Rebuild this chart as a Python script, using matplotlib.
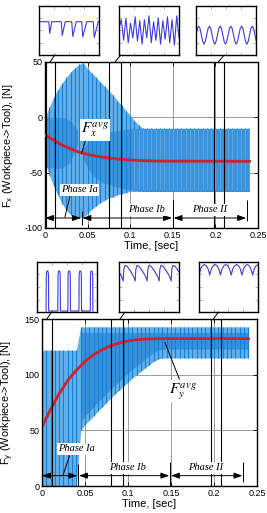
import numpy as np
import matplotlib
matplotlib.use("Agg")
import matplotlib.pyplot as plt
from matplotlib.patches import Rectangle, ConnectionPatch

plt.rcParams['font.family'] = ['Liberation Sans', 'DejaVu Sans']
plt.rcParams['mathtext.fontset'] = 'stix'
plt.rcParams['axes.unicode_minus'] = False

## envelope sample times [sec]
t_env = np.round(np.arange(0, 0.2401, 0.005), 3)

## Fx envelope
fx_upper = [0, 9, 18, 25, 31, 36, 41, 45, 48, 49, 44, 40, 36, 32, 28, 24,
            20, 15, 11, 6, 2, -3, -7, -10] + [-10] * 25
fx_lower = [-40, -52, -62, -70, -78, -84, -88, -90, -91, -90, -87, -83, -80,
            -77, -75, -73, -72, -70, -69, -68] + [-67] * 29
# darker inner bands (overlapping cycles)
fx_band1_t = [0, 0.01, 0.02, 0.03, 0.038]
fx_band1_hi = [0, 0, 0, -3, -12]
fx_band1_lo = [-45, -46, -46, -40, -25]
fx_band2_t = [0.045, 0.055, 0.065, 0.075, 0.085, 0.095, 0.105, 0.115, 0.24]
fx_band2_hi = [-28, -18, -14, -13, -12, -11, -10, -10, -10]
fx_band2_lo = [-38, -52, -58, -61, -63, -65, -66, -67, -67]

fx_avg_t = [0, 0.01, 0.02, 0.03, 0.04, 0.05, 0.06, 0.07, 0.08, 0.09, 0.1, 0.12, 0.14, 0.24]
fx_avg = [-16, -20.5, -25, -28.5, -31.5, -33.5, -35, -36.3, -37.3, -38, -38.6, -39.3, -39.6, -39.8]

## Fy envelope
fy_upper = [122] * 9 + [143] * 40
fy_lower = [0] * 9 + [50, 55, 59, 63, 67, 71, 75, 79, 83, 86, 90, 93, 97, 100,
                      103, 106, 109, 112, 114] + [115] * 21
fy_avg_t = [0, 0.01, 0.02, 0.03, 0.04, 0.05, 0.06, 0.07, 0.08, 0.09, 0.1, 0.11, 0.12, 0.14, 0.24]
fy_avg = [53, 69, 83, 95, 104, 112, 118, 122.5, 126, 128.5, 130.3, 131.4, 132, 132.4, 132.4]

xticks = [0, 0.05, 0.1, 0.15, 0.2, 0.25]
xtick_labels = ['0', '0.05', '0.1', '0.15', '0.2', '0.25']
fx_yticks = [-100, -50, 0, 50]
fy_yticks = [0, 50, 100, 150]

# zoom windows [sec]
fx_zoom = [(0.001, 0.012), (0.0755, 0.0888), (0.1988, 0.210)]
fy_zoom = [(0.0, 0.0113), (0.080, 0.094), (0.196, 0.208)]

## inset waveforms (normalised, 0..1)
# Fx, phase Ia: flat with short dips
ins_fx1_x = [0, 9.5, 10.5, 12.5, 22, 23, 26, 32.5, 33.5, 37, 42.5, 43.5, 47.5, 54, 55, 59, 60]
ins_fx1_y = [0.68, 0.68, 0.44, 0.68, 0.68, 0.40, 0.68, 0.68, 0.38, 0.68, 0.68, 0.37, 0.68, 0.68, 0.36, 0.68, 0.68]
# Fx, phase Ib: irregular zigzag
ins_fx2_y = [0.55, 0.72, 0.30, 0.75, 0.25, 0.65, 0.35, 0.78, 0.28, 0.70, 0.22, 0.72, 0.35,
             0.80, 0.25, 0.68, 0.30, 0.76, 0.22, 0.70, 0.32, 0.78, 0.25, 0.72, 0.20, 0.80, 0.35]
# Fx, phase II: sine-like, one cycle
ins_fx3_cycle = [0.41, 0.54, 0.59, 0.54, 0.41, 0.28, 0.22, 0.28]
ins_fx3_ncyc = 5.6
# Fy, phase Ia: pulses
ins_fy1_centers = [10.6, 22.3, 32.3, 43.3, 54.6]
ins_fy1_shape_dx = [-1.3, -1.1, -0.8, -0.3, 0.3, 0.8, 1.1, 1.3]
ins_fy1_shape_y = [0.02, 0.72, 0.80, 0.82, 0.82, 0.80, 0.72, 0.02]
# Fy, phase Ib: rise, round top, decline
ins_fy2_cycle_x = [0, 0.05, 0.15, 0.3, 0.6, 0.85, 1.0]
ins_fy2_cycle_y = [0.62, 0.85, 0.93, 0.92, 0.82, 0.72, 0.62]
ins_fy2_ncyc = 5
# Fy, phase II: arches
ins_fy3_cycle_x = [0, 0.15, 0.3, 0.5, 0.7, 0.85, 1.0]
ins_fy3_cycle_y = [0.74, 0.86, 0.92, 0.95, 0.92, 0.86, 0.74]
ins_fy3_ncyc = 5.5

light = '#62b0ea'
mid = '#3b94dc'
dark = '#1a7fd2'
red = '#d2202c'
ins_col = '#3c3ce0'

fig = plt.figure(figsize=(2.67, 5.13), dpi=100)
ax1 = fig.add_axes([0.1685, 0.5556, 0.7978, 0.3236])
ax2 = fig.add_axes([0.1573, 0.0526, 0.8052, 0.3255])


def draw_signal(ax, lower, upper):
    ax.fill_between(t_env, lower, upper, color=light, lw=0, zorder=1)
    ax.vlines(t_env, lower, upper, color=dark, lw=0.8, zorder=2)


def style_axes(ax, yticks, ylim, ylabel, lab_x):
    ax.set_xlim(0, 0.25)
    ax.set_ylim(*ylim)
    ax.set_xticks(xticks)
    ax.set_xticklabels(xtick_labels)
    ax.set_yticks(yticks)
    ax.tick_params(direction='in', length=3, width=0.6, labelsize=6.5, pad=2,
                   top=True, right=True)
    ax.grid(True, color='0.55', lw=0.6)
    ax.set_axisbelow(True)
    for s in ax.spines.values():
        s.set_linewidth(1.0)
    ax.set_xlabel('Time, [sec]', fontsize=8, labelpad=1)
    ax.set_ylabel(ylabel, fontsize=7.8, va='center')
    ax.yaxis.set_label_coords(lab_x, 0.5)


def phase_arrows(ax, y, segs, bars):
    for x0, x1 in segs:
        ax.annotate('', xy=(x1, y), xytext=(x0, y),
                    arrowprops=dict(arrowstyle='<|-|>,head_length=0.5,head_width=0.18',
                                    color='k', lw=0.7, shrinkA=0, shrinkB=0),
                    zorder=6)
    for x, y0, y1 in bars:
        ax.vlines(x, y0, y1, color='k', lw=0.7, zorder=6)


def label(ax, x, y, s, **kw):
    ax.text(x, y, s, ha='center', va='center', zorder=8,
            bbox=dict(fc='white', ec='none', pad=1.0), **kw)


def inset(rect):
    a = fig.add_axes(rect)
    a.set_xlim(0, 1)
    a.set_ylim(0, 1)
    a.set_xticks([0.25, 0.5, 0.75])
    a.set_yticks([0.25, 0.5, 0.75])
    a.tick_params(direction='in', length=2, width=0.5, color='0.6',
                  top=True, right=True, labelbottom=False, labelleft=False)
    for s in a.spines.values():
        s.set_linewidth(1.0)
    return a


# ---- Fx ----
draw_signal(ax1, fx_lower, fx_upper)
ax1.fill_between(fx_band1_t, fx_band1_lo, fx_band1_hi, color=mid, lw=0, zorder=1.5)
ax1.fill_between(fx_band2_t, fx_band2_lo, fx_band2_hi, color=mid, lw=0, zorder=1.5)
ax1.vlines(t_env[t_env > 0.1], -66, -11, color='#8cc6f0', lw=0.4, zorder=2.5)
ax1.plot(fx_avg_t, fx_avg, color=red, lw=2, zorder=5)
style_axes(ax1, fx_yticks, (-100, 50), r'F$_{\mathregular{x}}$ (Workpiece->Tool), [N]', -0.174)

for t0, t1 in fx_zoom:
    ax1.add_patch(Rectangle((t0, -100), t1 - t0, 150, fill=False, ec='k', lw=0.8, zorder=7))

phase_arrows(ax1, -91, [(0, 0.042), (0.044, 0.149), (0.151, 0.236)],
             [(0.043, -97, -85), (0.15, -100, -75), (0.237, -94, -75)])
label(ax1, 0.0587, -11.4, r'$F_x^{avg}$', fontsize=11)
ax1.plot([0.049, 0.043], [-17.5, -32.5], color='k', lw=0.7, zorder=7)
label(ax1, 0.0403, -65.6, 'Phase Ia', family='Liberation Serif', style='italic', fontsize=7.5)
ax1.plot([0.0293, 0.0235], [-71, -90], color='k', lw=0.7, zorder=7)
label(ax1, 0.119, -83.7, 'Phase Ib', family='Liberation Serif', style='italic', fontsize=7.5)
label(ax1, 0.1937, -83.7, 'Phase II', family='Liberation Serif', style='italic', fontsize=7.5)

# ---- Fy ----
draw_signal(ax2, fy_lower, fy_upper)
ax2.fill_between(t_env[t_env >= 0.045], np.array(fy_lower)[t_env >= 0.045] + 8, 138,
                 color=dark, lw=0, zorder=1.5, alpha=0.6)
ax2.plot(fy_avg_t, fy_avg, color=red, lw=2, zorder=5)
style_axes(ax2, fy_yticks, (0, 150), r'F$_{\mathregular{y}}$ (Workpiece->Tool), [N]', -0.158)

for t0, t1 in fy_zoom:
    ax2.add_patch(Rectangle((t0, 0), t1 - t0, 150, fill=False, ec='k', lw=0.8, zorder=7))

phase_arrows(ax2, 9.3, [(0, 0.041), (0.043, 0.148), (0.15, 0.233)],
             [(0.042, 0, 20), (0.149, 0, 22), (0.234, 4, 22)])
label(ax2, 0.1636, 85, r'$F_y^{avg}$', fontsize=11)
ax2.plot([0.1597, 0.143], [96, 129], color='k', lw=0.7, zorder=7)
label(ax2, 0.0399, 33.5, 'Phase Ia', family='Liberation Serif', style='italic', fontsize=7.5)
ax2.plot([0.032, 0.0244], [27, 9.6], color='k', lw=0.7, zorder=7)
label(ax2, 0.0996, 16.4, 'Phase Ib', family='Liberation Serif', style='italic', fontsize=7.5)
label(ax2, 0.1907, 16.4, 'Phase II', family='Liberation Serif', style='italic', fontsize=7.5)

# ---- insets ----
top_ins = [inset([0.147, 0.8928, 0.2247, 0.0955]),
           inset([0.4457, 0.8928, 0.2247, 0.0955]),
           inset([0.7341, 0.8928, 0.2247, 0.0955])]
bot_ins = [inset([0.1375, 0.3918, 0.2258, 0.0975]),
           inset([0.4457, 0.3918, 0.2247, 0.0975]),
           inset([0.7453, 0.3918, 0.221, 0.0975])]

top_ins[0].plot(np.array(ins_fx1_x) / 60, ins_fx1_y, color=ins_col, lw=0.8)
top_ins[1].plot(np.linspace(0, 1, len(ins_fx2_y)), ins_fx2_y, color=ins_col, lw=0.8)
n3 = int(np.ceil(ins_fx3_ncyc)) * len(ins_fx3_cycle) + 1
y3 = (ins_fx3_cycle * 7)[:n3]
x3 = np.arange(len(y3)) / (len(ins_fx3_cycle) * ins_fx3_ncyc)
top_ins[2].plot(x3, y3, color=ins_col, lw=0.8)

px, py = [], []
for c in ins_fy1_centers:
    px += [(c + d) / 60 for d in ins_fy1_shape_dx]
    py += ins_fy1_shape_y
bot_ins[0].plot(px, py, color=ins_col, lw=0.8)

for a, cx, cy, nc, off in [(bot_ins[1], ins_fy2_cycle_x, ins_fy2_cycle_y, ins_fy2_ncyc, 0.35),
                           (bot_ins[2], ins_fy3_cycle_x, ins_fy3_cycle_y, ins_fy3_ncyc, 0.0)]:
    xs, ys = [], []
    for k in range(-1, int(np.ceil(nc)) + 1):
        xs += [(k + off + x) / nc for x in cx]
        ys += cy
    a.plot(xs, ys, color=ins_col, lw=0.8)

# connector lines from zoom windows to insets
for ax, ins, starts, ends, ytop in [(ax1, top_ins, [0.0059, 0.0822, 0.2035], [0.26, 0.03, 0.47], 50),
                                    (ax2, bot_ins, [0.0055, 0.0907, 0.1992], [0.25, 0.1, 0.33], 150)]:
    for a, s, e in zip(ins, starts, ends):
        con = ConnectionPatch(xyA=(s, ytop), coordsA=ax.transData,
                              xyB=(e, 0), coordsB=a.transAxes, color='k', lw=0.7)
        fig.add_artist(con)

plt.savefig('out.png', dpi=100)
